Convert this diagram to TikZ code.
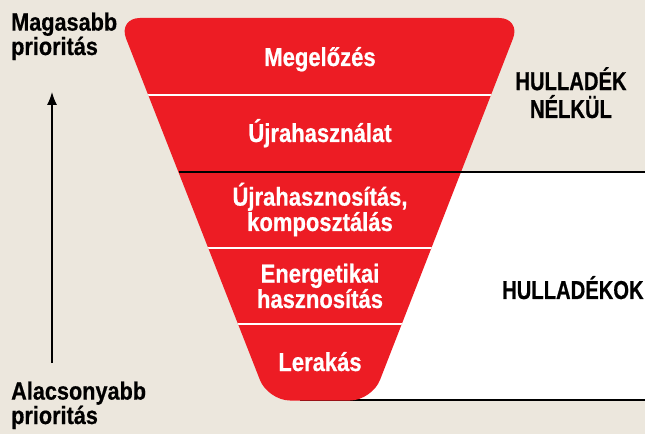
\documentclass[tikz,border=0pt]{standalone}
\usepackage{fontspec}
\usetikzlibrary{arrows.meta}
\setmainfont{Liberation Sans}
\newfontfamily\redlabfont{Liberation Sans}[FakeStretch=0.85,FakeBold=0.6]
\newfontfamily\blklabfont{Liberation Sans}[FakeStretch=0.78,FakeBold=0.6]
\newfontfamily\sidelabfont{Liberation Sans}[FakeStretch=0.87,FakeBold=0.6]
\definecolor{bgbeige}{RGB}{236,231,221}
\definecolor{funnelred}{RGB}{237,28,36}
\tikzset{
  redlab/.style={text=white, inner sep=0pt, align=center, anchor=base,
    font=\redlabfont\bfseries\fontsize{26pt}{22.5pt}\selectfont},
  blklab/.style={text=black, inner sep=0pt, align=center, anchor=base,
    font=\blklabfont\bfseries\fontsize{26pt}{28pt}\selectfont},
  sidelab/.style={text=black, inner sep=0pt, align=left, anchor=base west,
    font=\sidelabfont\bfseries\fontsize{25pt}{24.5pt}\selectfont},
  divider/.style={white, line width=2bp},
  rule/.style={black, line width=1.6bp},
}
\begin{document}
\begin{tikzpicture}[x=1bp,y=-1bp]
\useasboundingbox (0,0) rectangle (645,434);
\fill[bgbeige] (0,0) rectangle (645,434);
% white band with rules
\fill[white] (300,172) rectangle (645,400);
\coordinate (botL) at (300,400);
\coordinate (botR) at (645,400);
\draw[rule] (botL) -- (botR);
% funnel
\def\funnelpath{(320,18) -- (521,18) -- (372,400.5) -- (268,400.5) -- (118,18) -- cycle}
\fill[funnelred, rounded corners=22bp] \funnelpath;
\begin{scope}
  \clip[rounded corners=22bp] \funnelpath;
  \draw[divider] (100,95) -- (540,95);
  \draw[divider] (100,248) -- (540,248);
  \draw[divider] (100,324) -- (540,324);
\end{scope}
\coordinate (topL) at (178.5,172);
\coordinate (topR) at (645,172);
\draw[rule] (topL) -- (topR);
% labels in funnel (base anchor = last line baseline)
\node[redlab] (l1) at (320,66) {Megelőzés};
\node[redlab] (l2) at (320,142) {Újrahasználat};
\node[redlab] (l3) at (320,231) {Újrahasznosítás,\\komposztálás};
\node[redlab] (l4) at (320,308) {Energetikai\\hasznosítás};
\node[redlab] (l5) at (320,371) {Lerakás};
% right labels
\node[blklab] (r1) at (571,118) {HULLADÉK\\NÉLKÜL};
\node[blklab, anchor=base west] (r2) at (502,299) {HULLADÉKOK};
% left labels and arrow
\node[sidelab] (s1) at (11,55) {Magasabb\\prioritás};
\node[sidelab] (s2) at (11,424) {Alacsonyabb\\prioritás};
\coordinate (arrB) at (52,363);
\coordinate (arrT) at (52,92);
\draw[line width=1.3bp, -{Latex[length=13bp,width=10bp]}] (arrB) -- (arrT);
\end{tikzpicture}
\end{document}
